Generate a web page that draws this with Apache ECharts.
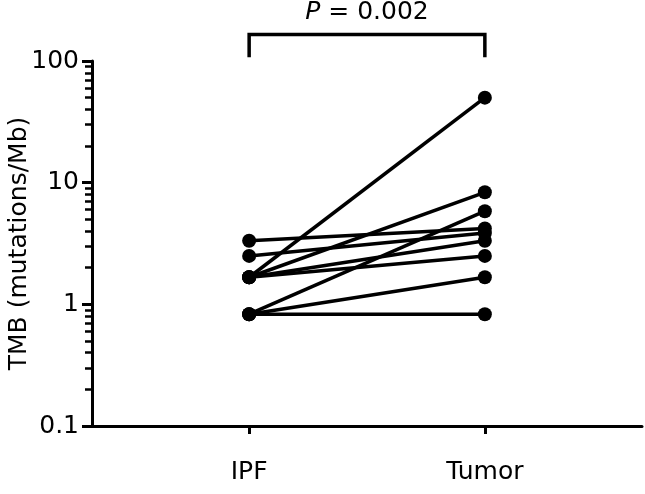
<!DOCTYPE html>
<html>
<head>
<meta charset="utf-8">
<script src="https://cdn.jsdelivr.net/npm/echarts@6/dist/echarts.min.js"></script>
<style>
  html, body { margin: 0; padding: 0; background: #fff; }
  #main { width: 645px; height: 494px; }
</style>
</head>
<body>
<div id="main"></div>
<script>
// paired TMB values (mutations/Mb), one entry per patient
var ipf   = [0.83, 0.83, 0.83, 1.67, 1.67, 1.67, 1.67, 2.5, 3.33];
var tumor = [0.83, 1.67, 5.83, 50, 8.33, 3.33, 2.5, 3.85, 4.2];

var groups = ['IPF', 'Tumor'];
var groupX = [1, 2.5];

var majorTicks = [0.1, 1, 10, 100];
var minorTicks = [0.2, 0.3, 0.4, 0.5, 0.6, 0.7, 0.8, 0.9,
                  2, 3, 4, 5, 6, 7, 8, 9,
                  20, 30, 40, 50, 60, 70, 80, 90];

// significance bracket (bottom and top of the bracket, in y units)
var bracketLow = 111;
var bracketHigh = 165;
var pText = '{i|P} = 0.002';

var FONT = 'DejaVu Sans';
var FS = 25;

var myChart = echarts.init(document.getElementById('main'));

var series = [];
for (var i = 0; i < ipf.length; i++) {
  series.push({
    type: 'line',
    data: [[groupX[0], ipf[i]], [groupX[1], tumor[i]]],
    symbol: 'circle',
    symbolSize: 14,
    itemStyle: { color: '#000' },
    lineStyle: { color: '#000', width: 3.5 },
    silent: true,
    animation: false
  });
}

series.push({
  type: 'line',
  data: [[groupX[0], bracketLow], [groupX[0], bracketHigh],
         [groupX[1], bracketHigh], [groupX[1], bracketLow]],
  symbol: 'none',
  clip: false,
  lineStyle: { color: '#000', width: 3.5, cap: 'square', join: 'miter' },
  silent: true,
  animation: false
});

var option = {
  backgroundColor: '#fff',
  title: {
    text: pText,
    left: 367,
    top: 0,
    padding: 0,
    textAlign: 'center',
    textStyle: {
      fontFamily: FONT, fontSize: FS, fontWeight: 'normal', color: '#000',
      rich: { i: { fontFamily: FONT, fontSize: FS, fontStyle: 'italic', color: '#000' } }
    }
  },
  grid: { left: 92, right: 3, top: 61, bottom: 68, outerBoundsMode: 'none', containLabel: false },
  xAxis: {
    type: 'value',
    min: 0,
    max: 3.5,
    splitLine: { show: false },
    axisLine: { show: true, lineStyle: { color: '#000', width: 3 } },
    axisTick: {
      show: true, customValues: groupX, length: 8, inside: false,
      lineStyle: { color: '#000', width: 3 }
    },
    axisLabel: {
      customValues: groupX,
      margin: 34,
      fontFamily: FONT, fontSize: FS, color: '#000',
      formatter: function (v) { return groups[groupX.indexOf(v)]; }
    }
  },
  yAxis: [{
    type: 'log',
    logBase: 10,
    min: 0.1,
    max: 100,
    position: 'left',
    name: 'TMB (mutations/Mb)',
    nameLocation: 'middle',
    nameGap: 60,
    nameMoveOverlap: false,
    nameTextStyle: { fontFamily: FONT, fontSize: FS, color: '#000' },
    splitLine: { show: false },
    axisLine: { show: true, lineStyle: { color: '#000', width: 3 } },
    axisTick: {
      show: true, customValues: majorTicks, length: 10,
      lineStyle: { color: '#000', width: 3 }
    },
    axisLabel: {
      customValues: majorTicks,
      margin: 13,
      fontFamily: FONT, fontSize: FS, color: '#000',
      formatter: function (v) { return String(v); }
    }
  }, {
    type: 'log',
    logBase: 10,
    min: 0.1,
    max: 100,
    position: 'left',
    offset: 0,
    splitLine: { show: false },
    axisLine: { show: false },
    axisLabel: { show: false },
    axisTick: {
      show: true, customValues: minorTicks, length: 7,
      lineStyle: { color: '#000', width: 2.5 }
    }
  }],
  series: series
};

myChart.setOption(option);
</script>
</body>
</html>
